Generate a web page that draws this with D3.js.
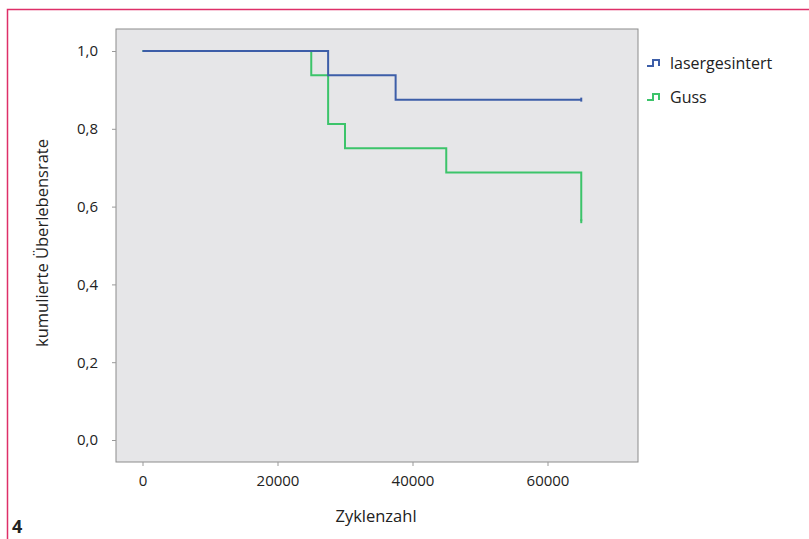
<!DOCTYPE html>
<html>
<head>
<meta charset="utf-8">
<script src="https://cdn.jsdelivr.net/npm/d3@7"></script>
<style>
  body { margin: 0; background: #fff; }
  text { font-family: "Open Sans", "Noto Sans", sans-serif; fill: #222; }
</style>
</head>
<body>
<script>
var WIDTH = 809,
    HEIGHT = 539;

// Kaplan-Meier steps: [Zyklenzahl, kumulierte Überlebensrate]
var laserSteps = [[0, 1], [27500, 0.9375], [37500, 0.875], [65000, 0.875]];
var gussSteps = [[0, 1], [25000, 0.9375], [27500, 0.8125], [30000, 0.75], [45000, 0.6875], [65000, 0.5625]];
var seriesNames = ["lasergesintert", "Guss"];
var seriesColors = ["#3d5ea8", "#3cc46a"];
var xTicks = [0, 20000, 40000, 60000];
var yTicks = [0, 0.2, 0.4, 0.6, 0.8, 1.0];

var box = { left: 116, top: 29, right: 638, bottom: 462 };

var x = d3.scaleLinear().domain([0, 60000]).range([142.5, 547.5]);
var y = d3.scaleLinear().domain([0, 1]).range([440, 51]);

var svg = d3.select("body").append("svg")
      .attr("width", WIDTH)
      .attr("height", HEIGHT);

// pink frame of the figure
svg.append("path")
  .attr("d", "M7.5,539 V9.5 H809")
  .attr("fill", "none")
  .attr("stroke", "#de2f68")
  .attr("stroke-width", 1.5);

svg.append("text")
  .attr("x", 12)
  .attr("y", 533)
  .style("font-size", "18px")
  .style("font-weight", "bold")
  .text("4");

// plot area
svg.append("rect")
  .attr("x", box.left)
  .attr("y", box.top)
  .attr("width", box.right - box.left)
  .attr("height", box.bottom - box.top)
  .attr("fill", "#e6e6e8")
  .attr("stroke", "#8c8c8c")
  .attr("stroke-width", 1);

var fmt = function(d) { return d3.format(".1f")(d).replace(".", ","); };

var yAxis = svg.append("g")
  .attr("transform", "translate(" + box.left + ",0)")
  .call(d3.axisLeft(y).tickValues(yTicks).tickFormat(fmt).tickSize(4).tickPadding(14));

var xAxis = svg.append("g")
  .attr("transform", "translate(0," + box.bottom + ")")
  .call(d3.axisBottom(x).tickValues(xTicks).tickFormat(d3.format("d")).tickSize(4).tickPadding(9));

[yAxis, xAxis].forEach(function(a) {
  a.select(".domain").remove();
  a.selectAll(".tick line").attr("stroke", "#999");
  a.selectAll(".tick text")
    .style("font-size", "15px")
    .style("font-family", "'Open Sans', sans-serif")
    .attr("fill", "#222");
});

svg.append("text")
  .attr("x", (box.left + box.right) / 2 - 1)
  .attr("y", 522)
  .attr("text-anchor", "middle")
  .style("font-size", "16.5px")
  .text("Zyklenzahl");

svg.append("text")
  .attr("transform", "translate(48,243) rotate(-90)")
  .attr("text-anchor", "middle")
  .style("font-size", "16.5px")
  .text("kumulierte Überlebensrate");

var line = d3.line()
  .x(function(d) { return x(d[0]); })
  .y(function(d) { return y(d[1]); })
  .curve(d3.curveStepAfter);

var allSteps = [laserSteps, gussSteps];

// draw Guss first so the blue line sits on top where they overlap
[1, 0].forEach(function(i) {
  var steps = allSteps[i];
  svg.append("path")
    .datum(steps)
    .attr("d", line)
    .attr("fill", "none")
    .attr("stroke", seriesColors[i])
    .attr("stroke-width", 2);

  // censor mark at the end
  var last = steps[steps.length - 1];
  svg.append("line")
    .attr("x1", x(last[0])).attr("x2", x(last[0]))
    .attr("y1", y(last[1]) - 2).attr("y2", y(last[1]) + 2)
    .attr("stroke", seriesColors[i])
    .attr("stroke-width", 2);
});

// legend
var legend = svg.selectAll(".legend").data(seriesNames)
  .enter().append("g")
  .attr("class", "legend")
  .attr("transform", function(d, i) { return "translate(647," + (63 + i * 34) + ")"; });

legend.append("path")
  .attr("d", "M0,3 H6 V-3 H12 V3")
  .attr("fill", "none")
  .attr("stroke", function(d, i) { return seriesColors[i]; })
  .attr("stroke-width", 2);

legend.append("text")
  .attr("x", 23)
  .attr("y", 6)
  .style("font-size", "16px")
  .text(function(d) { return d; });
</script>
</body>
</html>
